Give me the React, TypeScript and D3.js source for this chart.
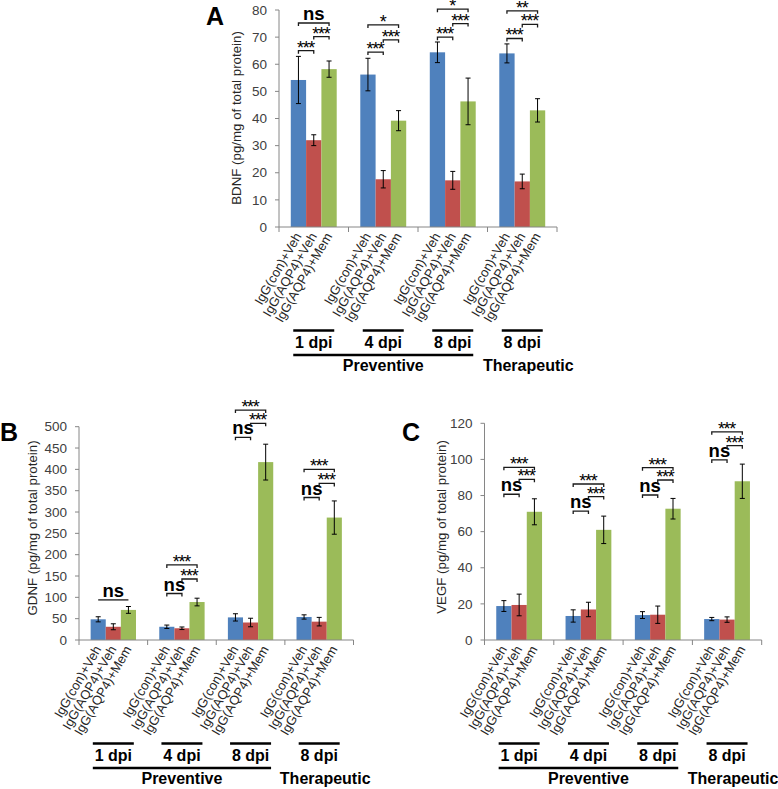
import React from "react";
import * as d3 from "d3";

const groupLabels = ["1 dpi", "4 dpi", "8 dpi", "8 dpi"];
const regimenLabels = ["Preventive", "Therapeutic"];
const treatments = ["IgG(con)+Veh", "IgG(AQP4)+Veh", "IgG(AQP4)+Mem"];
const seriesColors = ["#4F81BD", "#C0504D", "#9BBB59"];

// Panel A: BDNF
const bdnfCon = [54.2, 56.2, 64.4, 64.0];
const bdnfConErr = [8.7, 6.0, 3.8, 3.5];
const bdnfAqp4 = [32.0, 17.6, 17.2, 16.8];
const bdnfAqp4Err = [2.0, 3.2, 3.3, 2.7];
const bdnfMem = [58.2, 39.2, 46.3, 43.0];
const bdnfMemErr = [3.0, 3.7, 8.6, 4.3];
const bdnfTicks = [0, 10, 20, 30, 40, 50, 60, 70, 80];
// [group, fromSeries, toSeries, yValue, label]
const bdnfSig: [number, number, number, number, string][] = [
  [0, 0, 1, 65, "***"], [0, 1, 2, 70.2, "***"], [0, 0, 2, 75.2, "ns"],
  [1, 0, 1, 64.5, "***"], [1, 1, 2, 69, "***"], [1, 0, 2, 74.5, "*"],
  [2, 0, 1, 70, "***"], [2, 1, 2, 75, "***"], [2, 0, 2, 80.3, "*"],
  [3, 0, 1, 69.5, "***"], [3, 1, 2, 74.7, "***"], [3, 0, 2, 79.7, "**"],
];

// Panel B: GDNF
const gdnfCon = [48.5, 31.0, 53.0, 54.0];
const gdnfConErr = [6.0, 4.0, 8.5, 5.0];
const gdnfAqp4 = [31.0, 27.5, 41.0, 43.0];
const gdnfAqp4Err = [7.0, 3.0, 10.0, 10.0];
const gdnfMem = [70.5, 89.0, 417.0, 287.0];
const gdnfMemErr = [8.0, 9.0, 42.0, 39.0];
const gdnfTicks = [0, 50, 100, 150, 200, 250, 300, 350, 400, 450, 500];
const gdnfSig: [number, number, number, number, string][] = [
  [0, 0, 2, 94, "ns"],
  [1, 0, 1, 109, "ns"], [1, 1, 2, 143, "***"], [1, 0, 2, 176, "***"],
  [2, 0, 1, 475, "ns"], [2, 1, 2, 508, "***"], [2, 0, 2, 539, "***"],
  [3, 0, 1, 334, "ns"], [3, 1, 2, 367, "***"], [3, 0, 2, 400, "***"],
];

// Panel C: VEGF
const vegfCon = [18.8, 13.3, 13.8, 11.6];
const vegfConErr = [3.0, 3.4, 1.9, 0.9];
const vegfAqp4 = [19.4, 16.9, 14.0, 11.3];
const vegfAqp4Err = [6.0, 4.0, 4.8, 1.5];
const vegfMem = [71.0, 61.0, 72.7, 87.9];
const vegfMemErr = [7.2, 7.6, 5.7, 9.5];
const vegfTicks = [0, 20, 40, 60, 80, 100, 120];
const vegfSig: [number, number, number, number, string][] = [
  [0, 0, 1, 80.7, "ns"], [0, 1, 2, 89, "***"], [0, 0, 2, 95.6, "***"],
  [1, 0, 1, 71.4, "ns"], [1, 1, 2, 79.4, "***"], [1, 0, 2, 86.4, "***"],
  [2, 0, 1, 80.3, "ns"], [2, 1, 2, 88.6, "***"], [2, 0, 2, 95.4, "***"],
  [3, 0, 1, 99.7, "ns"], [3, 1, 2, 107.6, "***"], [3, 0, 2, 115.3, "***"],
];

const FONT = "'Liberation Sans', Arial, sans-serif";
const AXIS = "#868686";

type PanelProps = {
  letter: string;
  letterX: number;
  letterY: number;
  yTitle: string;
  yTitleX: number;
  yTitleY: number;
  x0: number;
  x1: number;
  yTop: number;
  yBottom: number;
  ticks: number[];
  means: number[][];
  errs: number[][];
  sig: [number, number, number, number, string][];
  plainNsGroup?: number;
};

function Panel(p: PanelProps) {
  const groups = d3.range(groupLabels.length);
  const x = d3.scaleBand<number>().domain(groups).range([p.x0, p.x1]).padding(0);
  const inner = d3
    .scaleBand<number>()
    .domain([0, 1, 2])
    .range([0, x.bandwidth()])
    .paddingInner(0)
    .paddingOuter(0.77);
  const yMax = p.ticks[p.ticks.length - 1];
  const y = d3.scaleLinear().domain([0, yMax]).range([p.yBottom, p.yTop]);
  const bw = inner.bandwidth();
  const cx = (g: number, s: number) => (x(g) as number) + (inner(s) as number) + bw / 2;
  const gc = (g: number) => (x(g) as number) + x.bandwidth() / 2;
  const ax = p.yBottom;
  const dpiY = ax + 103.5;
  const regY = ax + 128;
  const halfLine = 20.5;

  return (
    <g>
      <text x={p.letterX} y={p.letterY} fontFamily={FONT} fontWeight="bold" fontSize={25} fill="#000">
        {p.letter}
      </text>
      <text
        transform={`translate(${p.yTitleX},${p.yTitleY}) rotate(-90)`}
        textAnchor="middle"
        fontFamily={FONT}
        fontSize={13.3}
        fill="#262626"
      >
        {p.yTitle}
      </text>
      {/* y ticks */}
      {p.ticks.map((t) => (
        <g key={"t" + t}>
          <line x1={p.x0 - 4} x2={p.x0} y1={y(t)} y2={y(t)} stroke={AXIS} strokeWidth={1} />
          <text
            x={p.x0 - 12}
            y={y(t)}
            dy="0.35em"
            textAnchor="end"
            fontFamily={FONT}
            fontSize={13.5}
            fill="#404040"
          >
            {t}
          </text>
        </g>
      ))}
      {/* bars */}
      {groups.map((g) =>
        p.means.map((m, s) => (
          <rect
            key={`b${g}-${s}`}
            x={cx(g, s) - bw / 2}
            y={y(m[g])}
            width={bw}
            height={y(0) - y(m[g])}
            fill={seriesColors[s]}
          />
        ))
      )}
      {/* error bars */}
      {groups.map((g) =>
        p.means.map((m, s) => {
          const c = cx(g, s);
          const hi = y(m[g] + p.errs[s][g]);
          const lo = y(m[g] - p.errs[s][g]);
          return (
            <g key={`e${g}-${s}`} stroke="#000" strokeWidth={1}>
              <line x1={c} x2={c} y1={hi} y2={lo} />
              <line x1={c - 2.5} x2={c + 2.5} y1={hi} y2={hi} />
              <line x1={c - 2.5} x2={c + 2.5} y1={lo} y2={lo} />
            </g>
          );
        })
      )}
      {/* axes */}
      <line x1={p.x0} x2={p.x0} y1={p.yTop} y2={p.yBottom} stroke={AXIS} strokeWidth={1} />
      <line x1={p.x0} x2={p.x1} y1={p.yBottom} y2={p.yBottom} stroke={AXIS} strokeWidth={1} />
      {d3.range(groupLabels.length + 1).map((i) => {
        const xx = i < groupLabels.length ? (x(i) as number) : p.x1;
        return <line key={"xt" + i} x1={xx} x2={xx} y1={ax} y2={ax + 5} stroke={AXIS} strokeWidth={1} />;
      })}
      {/* significance brackets */}
      {p.sig.map(([g, a, b, v, lab], i) => {
        const xa = cx(g, a);
        const xb = cx(g, b);
        const yy = y(v);
        const plain = p.plainNsGroup === g && lab === "ns";
        const tk = plain ? 0 : 3;
        const isNs = lab === "ns";
        return (
          <g key={"s" + i}>
            <path
              d={`M${xa},${yy + tk}V${yy}H${xb}V${yy + tk}`}
              fill="none"
              stroke="#1a1a1a"
              strokeWidth={1.3}
            />
            <text
              x={(xa + xb) / 2 + (isNs ? 0 : -0.6)}
              y={isNs ? yy - 3 : yy + 3}
              textAnchor="middle"
              fontFamily={FONT}
              fontWeight={isNs ? "bold" : "normal"}
              fontSize={isNs ? 18.5 : 18}
              letterSpacing={isNs ? 0 : -1.3}
              fill="#000"
            >
              {lab}
            </text>
          </g>
        );
      })}
      {/* category labels */}
      {groups.map((g) =>
        treatments.map((t, s) => (
          <text
            key={`c${g}-${s}`}
            transform={`translate(${cx(g, s) + 3.5},${ax + 9}) rotate(-60)`}
            textAnchor="end"
            fontFamily={FONT}
            fontSize={13}
            fill="#262626"
          >
            {t}
          </text>
        ))
      )}
      {/* dpi lines and labels */}
      {groups.map((g) => (
        <g key={"d" + g}>
          <line x1={gc(g) - halfLine} x2={gc(g) + halfLine} y1={dpiY} y2={dpiY} stroke="#000" strokeWidth={2.5} />
          <text x={gc(g)} y={ax + 121} textAnchor="middle" fontFamily={FONT} fontWeight="bold" fontSize={16} fill="#000">
            {groupLabels[g]}
          </text>
        </g>
      ))}
      <line x1={gc(0) - halfLine} x2={gc(2) + halfLine} y1={regY} y2={regY} stroke="#000" strokeWidth={2.5} />
      <text x={(gc(0) + gc(2)) / 2} y={ax + 143.5} textAnchor="middle" fontFamily={FONT} fontWeight="bold" fontSize={16} fill="#000">
        {regimenLabels[0]}
      </text>
      <text x={gc(3) + 6} y={ax + 143.5} textAnchor="middle" fontFamily={FONT} fontWeight="bold" fontSize={16} fill="#000">
        {regimenLabels[1]}
      </text>
    </g>
  );
}

export default function App() {
  return (
    <svg
      width={778}
      height={789}
      style={{ position: "absolute", left: 0, top: 0, background: "#fff" }}
      xmlns="http://www.w3.org/2000/svg"
    >
      <rect width={778} height={789} fill="#fff" />
      <Panel
        letter="A"
        letterX={206}
        letterY={25}
        yTitle="BDNF (pg/mg of total protein)"
        yTitleX={241}
        yTitleY={118}
        x0={279}
        x1={557}
        yTop={10}
        yBottom={227}
        ticks={bdnfTicks}
        means={[bdnfCon, bdnfAqp4, bdnfMem]}
        errs={[bdnfConErr, bdnfAqp4Err, bdnfMemErr]}
        sig={bdnfSig}
      />
      <Panel
        letter="B"
        letterX={0}
        letterY={441}
        yTitle="GDNF (pg/mg of total protein)"
        yTitleX={37}
        yTitleY={528}
        x0={79}
        x1={353.5}
        yTop={426.7}
        yBottom={640}
        ticks={gdnfTicks}
        means={[gdnfCon, gdnfAqp4, gdnfMem]}
        errs={[gdnfConErr, gdnfAqp4Err, gdnfMemErr]}
        sig={gdnfSig}
        plainNsGroup={0}
      />
      <Panel
        letter="C"
        letterX={402}
        letterY={441}
        yTitle="VEGF (pg/mg of total protein)"
        yTitleX={446}
        yTitleY={527}
        x0={484.5}
        x1={761.7}
        yTop={423.3}
        yBottom={640}
        ticks={vegfTicks}
        means={[vegfCon, vegfAqp4, vegfMem]}
        errs={[vegfConErr, vegfAqp4Err, vegfMemErr]}
        sig={vegfSig}
      />
    </svg>
  );
}
